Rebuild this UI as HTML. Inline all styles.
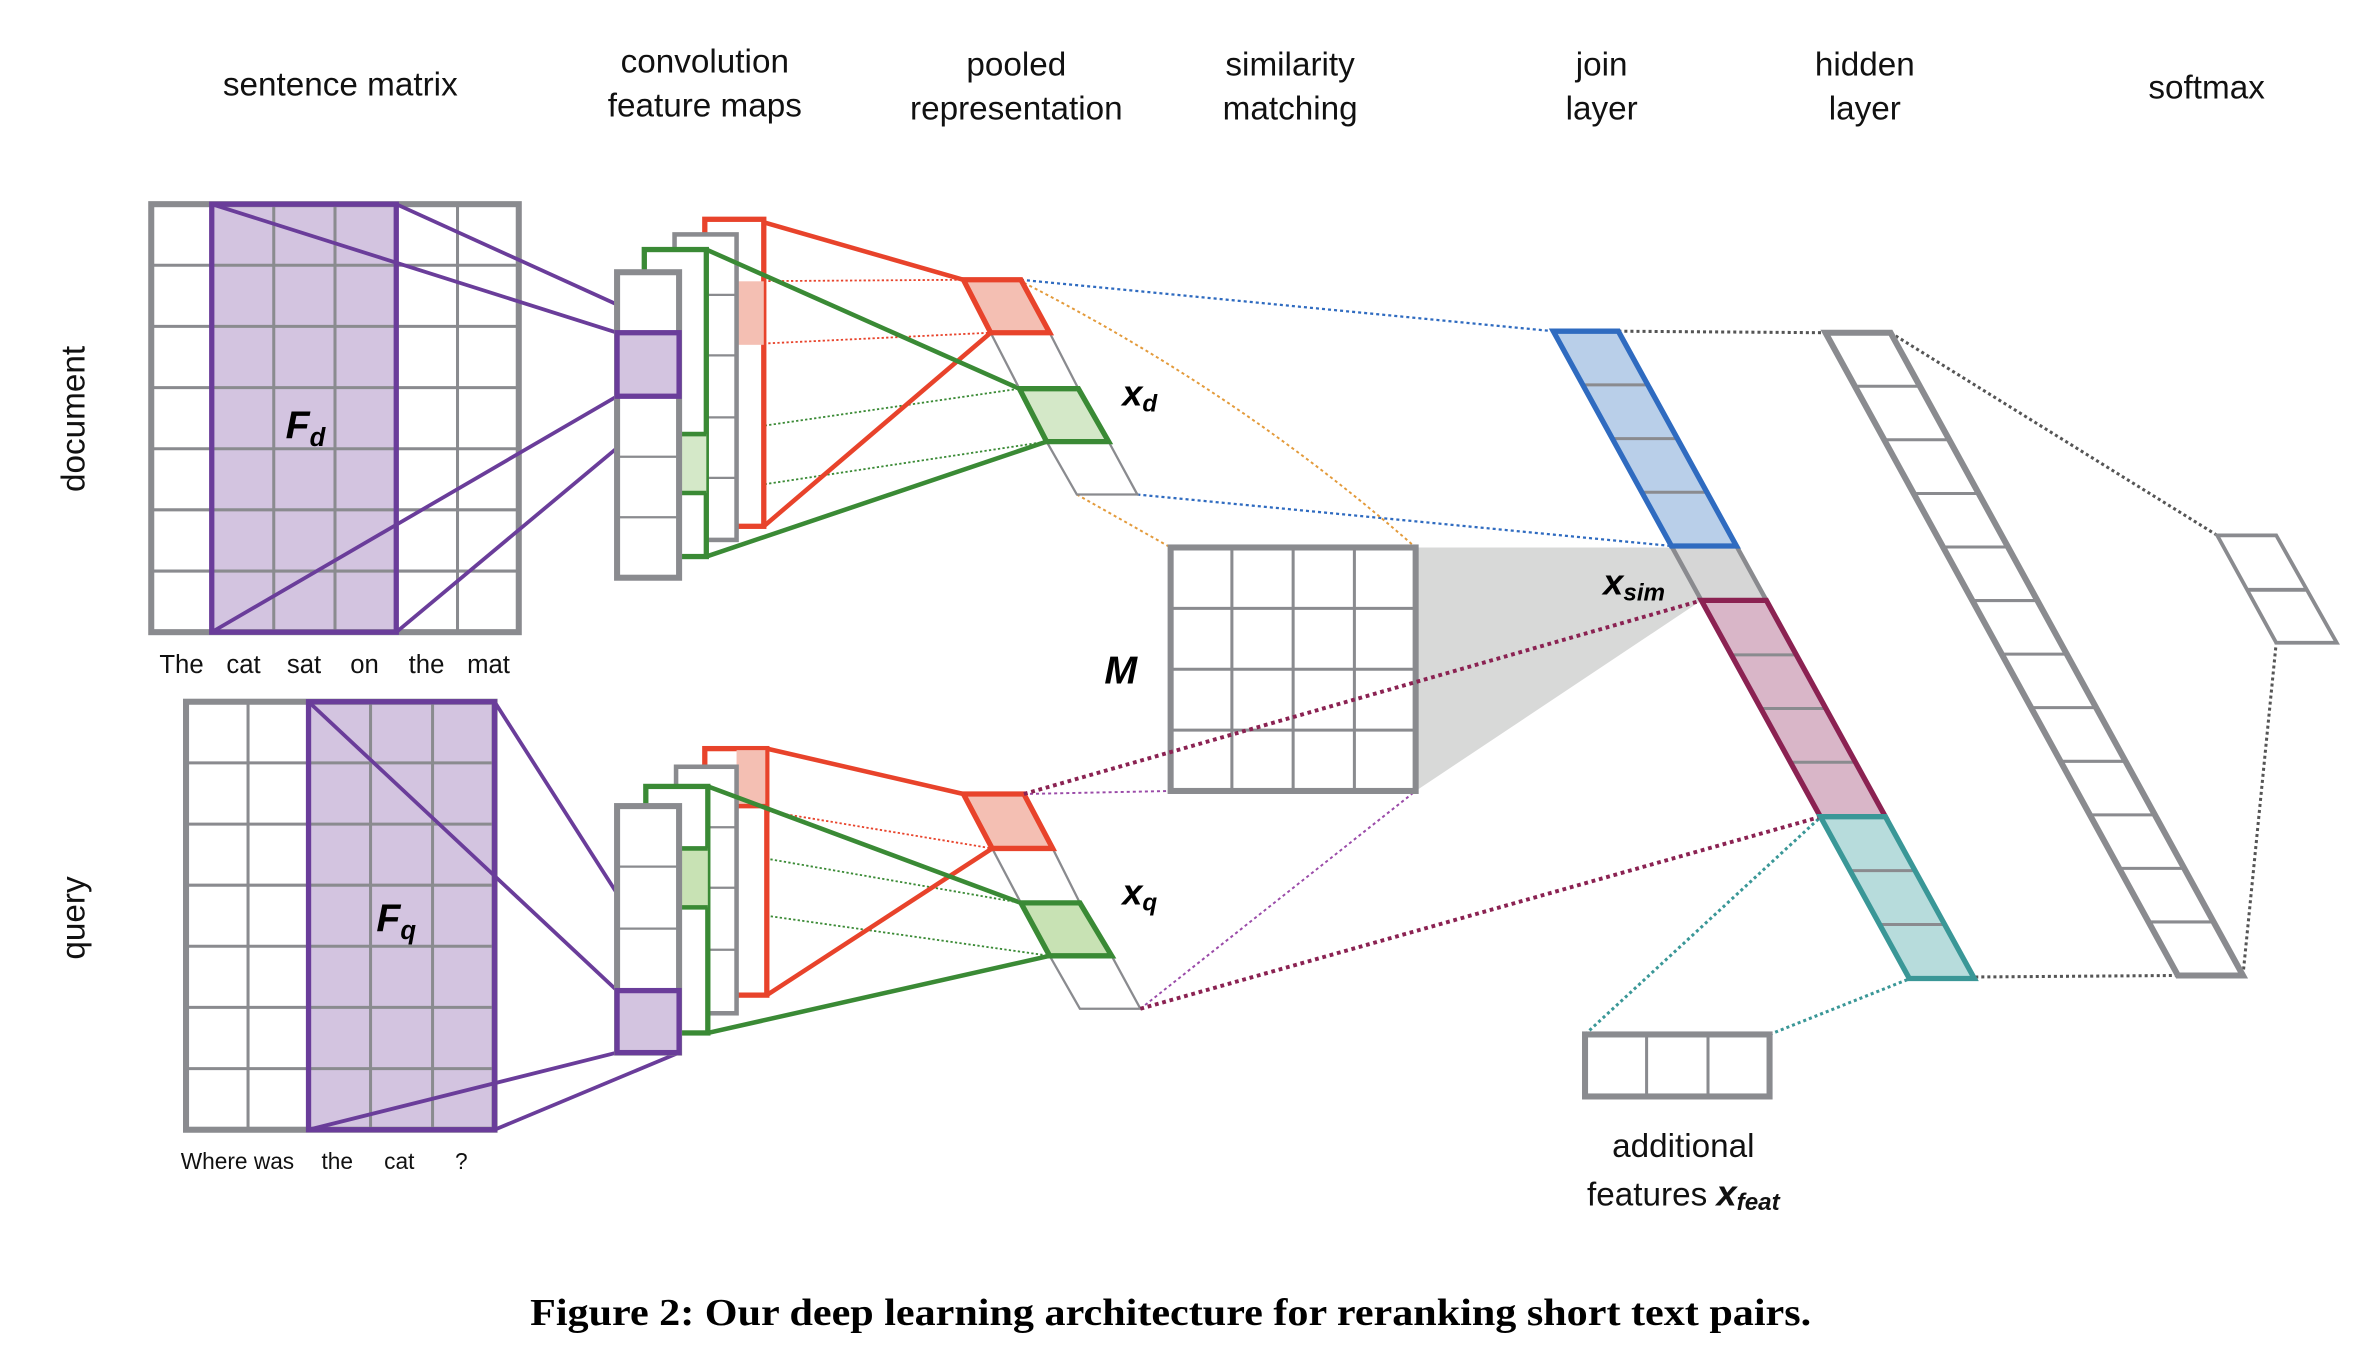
<!DOCTYPE html>
<html><head><meta charset="utf-8"><style>html,body{margin:0;padding:0;background:#fff}svg{display:block}</style></head>
<body>
<svg xmlns="http://www.w3.org/2000/svg" width="2370" height="1346" viewBox="0 0 1567 890" preserveAspectRatio="none">
<rect width="1567" height="890" fill="#fff"/>
<g font-family="Liberation Sans, sans-serif" font-size="22" fill="#111" text-anchor="middle">
<text x="225" y="63">sentence matrix</text>
<text x="466" y="48">convolution</text><text x="466" y="77">feature maps</text>
<text x="672" y="50">pooled</text><text x="672" y="79">representation</text>
<text x="853" y="50">similarity</text><text x="853" y="79">matching</text>
<text x="1059" y="50">join</text><text x="1059" y="79">layer</text>
<text x="1233" y="50">hidden</text><text x="1233" y="79">layer</text>
<text x="1459" y="65">softmax</text>
<text transform="translate(56,277) rotate(-90)">document</text>
<text transform="translate(56,607) rotate(-90)">query</text>
</g>

<g fill="none" stroke-dasharray="2 2">
<line x1="675" y1="185" x2="1027" y2="219" stroke="#2f6bc0" stroke-width="1.5"/>
<line x1="752" y1="327" x2="1105" y2="361" stroke="#2f6bc0" stroke-width="1.5"/>
<path d="M677 187 Q820 260 936 362" stroke="#e39a3a" stroke-width="1.3"/>
<line x1="712" y1="327" x2="774" y2="362" stroke="#e39a3a" stroke-width="1.3"/>
<line x1="677" y1="525" x2="774" y2="523" stroke="#9a4aa8" stroke-width="1.3"/>
<line x1="754" y1="667" x2="936" y2="523" stroke="#9a4aa8" stroke-width="1.3"/>
<line x1="1070" y1="219" x2="1207" y2="220" stroke="#555" stroke-width="2"/>
<line x1="1250" y1="220" x2="1466" y2="354" stroke="#555" stroke-width="2"/>
<line x1="1306" y1="646" x2="1440" y2="645" stroke="#555" stroke-width="2"/>
<line x1="1483" y1="645" x2="1505" y2="425" stroke="#555" stroke-width="2"/>
<line x1="1048" y1="684" x2="1204" y2="540" stroke="#3a9797" stroke-width="2"/>
<line x1="1170" y1="684" x2="1263" y2="647" stroke="#3a9797" stroke-width="2"/>
</g>
<g stroke-dasharray="1.5 1.5" stroke-width="1.2">
<line x1="487" y1="186" x2="637" y2="185" stroke="#e8432b"/>
<line x1="487" y1="228" x2="655" y2="220" stroke="#e8432b"/>
<line x1="467" y1="287" x2="674" y2="257" stroke="#3a8a35"/>
<line x1="467" y1="326" x2="692" y2="292" stroke="#3a8a35"/>
<line x1="487" y1="533" x2="656" y2="561" stroke="#e8432b"/>
<line x1="468" y1="561" x2="675" y2="597" stroke="#3a8a35"/>
<line x1="468" y1="600" x2="694" y2="632" stroke="#3a8a35"/>
</g>

<polygon points="936,362 1105,362 1125,397 936,523" fill="#d8d9d8"/>

<!-- document sentence matrix -->
<rect x="140" y="135" width="122" height="283" fill="#d3c4e0"/>
<g stroke="#8a8b8f" stroke-width="2" fill="none">
<path d="M140.5 135V418M181 135V418M221.5 135V418M262 135V418M302.5 135V418"/>
<path d="M100 175.4H343M100 215.8H343M100 256.3H343M100 296.7H343M100 337.1H343M100 377.6H343"/>
</g>
<rect x="100" y="135" width="243" height="283" fill="none" stroke="#8a8b8f" stroke-width="4"/>
<rect x="140" y="135" width="122" height="283" fill="none" stroke="#6a3d9a" stroke-width="3.5"/>
<g stroke="#6a3d9a" stroke-width="2.5">
<line x1="140" y1="135" x2="408" y2="220"/><line x1="262" y1="135" x2="449" y2="220"/>
<line x1="140" y1="418" x2="408" y2="262"/><line x1="262" y1="418" x2="449" y2="262"/>
</g>
<text x="202" y="290" font-family="Liberation Sans, sans-serif" font-weight="bold" font-style="italic" font-size="26" text-anchor="middle">F<tspan font-size="17" dy="5">d</tspan></text>
<g font-family="Liberation Sans, sans-serif" font-size="17" text-anchor="middle" fill="#111">
<text x="120" y="445">The</text><text x="161" y="445">cat</text><text x="201" y="445">sat</text><text x="241" y="445">on</text><text x="282" y="445">the</text><text x="323" y="445">mat</text>
</g>

<!-- doc conv maps -->
<rect x="466" y="145" width="39" height="203" fill="#fff" stroke="#e8432b" stroke-width="3.5"/>
<rect x="487" y="186" width="18" height="42" fill="#f4bfb3"/>
<rect x="446" y="155" width="41" height="202" fill="#fff" stroke="#8a8b8f" stroke-width="3"/>
<path d="M446 195H487M446 235H487M446 276H487M446 316H487" stroke="#8a8b8f" stroke-width="1.5"/>
<rect x="426" y="165" width="41" height="203" fill="#fff" stroke="#3a8a35" stroke-width="3.5"/>
<rect x="449" y="287" width="18" height="39" fill="#d4e8c8"/>
<path d="M449 287H467M449 326H467" stroke="#3a8a35" stroke-width="3"/>
<rect x="408" y="180" width="41" height="202" fill="#fff" stroke="#8a8b8f" stroke-width="4"/>
<path d="M408 302H449M408 342H449" stroke="#8a8b8f" stroke-width="1.5"/>
<rect x="408" y="220" width="41" height="42" fill="#d3c4e0" stroke="#6a3d9a" stroke-width="3.5"/>
<g stroke-width="3" fill="none">
<line x1="505" y1="147" x2="637" y2="185" stroke="#e8432b"/>
<line x1="505" y1="348" x2="655" y2="220" stroke="#e8432b"/>
<line x1="467" y1="165" x2="674" y2="257" stroke="#3a8a35"/>
<line x1="467" y1="368" x2="692" y2="292" stroke="#3a8a35"/>
</g>
<polygon points="655,220 694,220 713,257 674,257" fill="#fff" stroke="#8a8b8f" stroke-width="1.5"/>
<polygon points="692,292 733,292 752,327 712,327" fill="#fff" stroke="#8a8b8f" stroke-width="1.5"/>
<polygon points="637,185 675,185 694,220 655,220" fill="#f4bfb3" stroke="#e8432b" stroke-width="3.5"/>
<polygon points="674,257 713,257 733,292 692,292" fill="#d4e8c8" stroke="#3a8a35" stroke-width="3.5"/>
<text x="742" y="268" font-family="Liberation Sans, sans-serif" font-weight="bold" font-style="italic" font-size="24">x<tspan font-size="16" dy="4">d</tspan></text>

<!-- query sentence matrix -->
<rect x="204" y="464" width="123" height="283" fill="#d3c4e0"/>
<g stroke="#8a8b8f" stroke-width="2" fill="none">
<path d="M164 464V747M245 464V747M286 464V747"/>
<path d="M123 504.4H327M123 544.9H327M123 585.3H327M123 625.7H327M123 666.1H327M123 706.6H327"/>
</g>
<rect x="123" y="464" width="204" height="283" fill="none" stroke="#8a8b8f" stroke-width="4"/>
<rect x="204" y="464" width="123" height="283" fill="none" stroke="#6a3d9a" stroke-width="3.5"/>
<g stroke="#6a3d9a" stroke-width="2.5">
<line x1="204" y1="464" x2="408" y2="655"/><line x1="327" y1="464" x2="449" y2="655"/>
<line x1="204" y1="747" x2="408" y2="696"/><line x1="327" y1="747" x2="449" y2="696"/>
</g>
<text x="262" y="616" font-family="Liberation Sans, sans-serif" font-weight="bold" font-style="italic" font-size="26" text-anchor="middle">F<tspan font-size="17" dy="5">q</tspan></text>
<g font-family="Liberation Sans, sans-serif" font-size="15" text-anchor="middle" fill="#111">
<text x="157" y="773">Where was</text><text x="223" y="773">the</text><text x="264" y="773">cat</text><text x="305" y="773">?</text>
</g>

<!-- query conv maps -->
<rect x="466" y="495" width="41" height="163" fill="#fff" stroke="#e8432b" stroke-width="3.5"/>
<rect x="487" y="496" width="19" height="37" fill="#f4bfb3"/>
<path d="M487 533H507" stroke="#e8432b" stroke-width="3"/>
<rect x="447" y="507" width="40" height="163" fill="#fff" stroke="#8a8b8f" stroke-width="3"/>
<path d="M447 547H487M447 587H487M447 628H487" stroke="#8a8b8f" stroke-width="1.5"/>
<rect x="427" y="520" width="41" height="163" fill="#fff" stroke="#3a8a35" stroke-width="3.5"/>
<rect x="449" y="561" width="19" height="39" fill="#c8e2b4"/>
<path d="M449 561H468M449 600H468" stroke="#3a8a35" stroke-width="3"/>
<rect x="408" y="533" width="41" height="163" fill="#fff" stroke="#8a8b8f" stroke-width="4"/>
<path d="M408 573H449M408 614H449" stroke="#8a8b8f" stroke-width="1.5"/>
<rect x="408" y="655" width="41" height="41" fill="#d3c4e0" stroke="#6a3d9a" stroke-width="3.5"/>
<g stroke-width="3" fill="none">
<line x1="507" y1="495" x2="637" y2="525" stroke="#e8432b"/>
<line x1="507" y1="658" x2="656" y2="561" stroke="#e8432b"/>
<line x1="468" y1="520" x2="675" y2="597" stroke="#3a8a35"/>
<line x1="468" y1="683" x2="694" y2="632" stroke="#3a8a35"/>
</g>
<polygon points="656,561 696,561 714,597 675,597" fill="#fff" stroke="#8a8b8f" stroke-width="1.5"/>
<polygon points="694,632 735,632 754,667 714,667" fill="#fff" stroke="#8a8b8f" stroke-width="1.5"/>
<polygon points="637,525 677,525 696,561 656,561" fill="#f4bfb3" stroke="#e8432b" stroke-width="3.5"/>
<polygon points="675,597 714,597 735,632 694,632" fill="#c8e2b4" stroke="#3a8a35" stroke-width="3.5"/>
<text x="742" y="598" font-family="Liberation Sans, sans-serif" font-weight="bold" font-style="italic" font-size="24">x<tspan font-size="16" dy="4">q</tspan></text>

<!-- M matrix -->
<rect x="774" y="362" width="162" height="161" fill="#fff"/>
<path d="M814.5 362V523M855 362V523M895.5 362V523M774 402.3H936M774 442.5H936M774 482.8H936" stroke="#8a8b8f" stroke-width="2"/>
<rect x="774" y="362" width="162" height="161" fill="none" stroke="#8a8b8f" stroke-width="4"/>
<text x="741" y="452" font-family="Liberation Sans, sans-serif" font-weight="bold" font-style="italic" font-size="26" text-anchor="middle">M</text>

<g stroke="#8b2252" stroke-width="2.6" stroke-dasharray="2.5 2.5">
<line x1="677" y1="525" x2="1125" y2="397"/>
<line x1="754" y1="667" x2="1204" y2="540"/>
</g>

<!-- join layer -->
<polygon points="1105.1,361 1148.1,361 1167.9,397 1124.9,397" fill="#d6d6d6" stroke="#8a8b8f" stroke-width="3"/>
<polygon points="1027,219 1070,219 1148.1,361 1105.1,361" fill="#b9cfe9"/>
<path d="M1046.5 254.5H1089.5M1066 290H1109M1085.6 325.5H1128.6" stroke="#8a8b8f" stroke-width="2"/>
<polygon points="1027,219 1070,219 1148.1,361 1105.1,361" fill="none" stroke="#2f6bc0" stroke-width="3.5"/>
<polygon points="1124.9,397 1167.9,397 1246.6,540 1203.6,540" fill="#d9b6c8"/>
<path d="M1144.7 433H1187.7M1164.2 468.5H1207.2M1183.8 504H1226.8" stroke="#8a8b8f" stroke-width="2"/>
<polygon points="1124.9,397 1167.9,397 1246.6,540 1203.6,540" fill="none" stroke="#8b2252" stroke-width="3.5"/>
<polygon points="1203.6,540 1246.6,540 1305.4,647 1262.4,647" fill="#b7dcdc"/>
<path d="M1223.2 575.7H1266.2M1242.8 611.3H1285.8" stroke="#8a8b8f" stroke-width="2"/>
<polygon points="1203.6,540 1246.6,540 1305.4,647 1262.4,647" fill="none" stroke="#3a9797" stroke-width="3.5"/>
<text x="1060" y="393" font-family="Liberation Sans, sans-serif" font-weight="bold" font-style="italic" font-size="24">x<tspan font-size="16" dy="4">sim</tspan></text>

<!-- hidden layer -->
<g stroke="#8a8b8f" stroke-width="2">
<path d="M1226.4 255.4h43M1245.8 290.8h43M1265.2 326.3h43M1284.6 361.7h43M1304.1 397.1h43M1323.5 432.5h43M1342.9 467.9h43M1362.3 503.4h43M1381.7 538.8h43M1401.1 574.2h43M1420.5 609.6h43"/>
</g>
<polygon points="1207,220 1250,220 1483,645 1440,645" fill="none" stroke="#8a8b8f" stroke-width="4"/>

<!-- softmax -->
<polygon points="1466,354 1505,354 1545,425 1505,425" fill="#fff" stroke="#8a8b8f" stroke-width="2.5"/>
<line x1="1485.5" y1="390" x2="1524.5" y2="390" stroke="#8a8b8f" stroke-width="2.5"/>

<!-- additional features -->
<rect x="1048" y="684" width="122" height="41" fill="#fff" stroke="#8a8b8f" stroke-width="4"/>
<path d="M1088.7 684V725M1129.3 684V725" stroke="#8a8b8f" stroke-width="2"/>
<g font-family="Liberation Sans, sans-serif" font-size="22" fill="#111" text-anchor="middle">
<text x="1113" y="765">additional</text>
<text x="1113" y="797">features <tspan font-weight="bold" font-style="italic" font-size="24">x</tspan><tspan font-weight="bold" font-style="italic" font-size="16" dy="3">feat</tspan></text>
</g>

<text x="774" y="876" font-family="Liberation Serif, serif" font-weight="bold" font-size="25" text-anchor="middle" textLength="847" lengthAdjust="spacingAndGlyphs">Figure 2: Our deep learning architecture for reranking short text pairs.</text>
</svg>
</body></html>
